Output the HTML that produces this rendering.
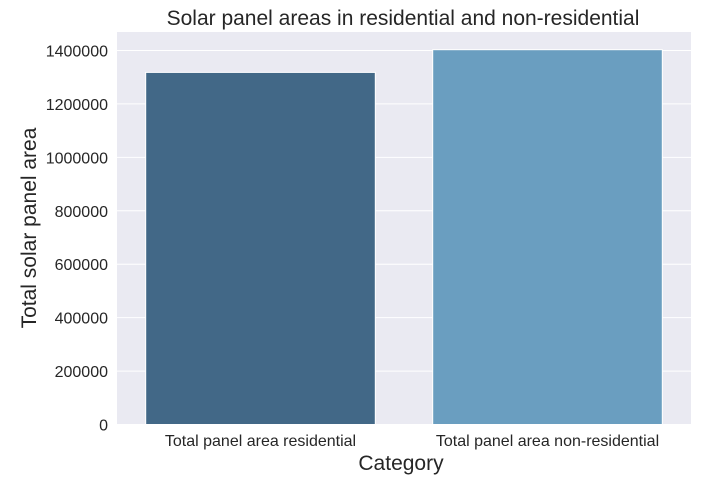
<!DOCTYPE html>
<html><head><meta charset="utf-8"><style>
body{margin:0;background:#fff;font-family:"Liberation Sans",Arial,sans-serif}
</style></head><body>
<svg width="720" height="485" id="chart">
<rect x="117" y="32" width="574" height="393" fill="#eaeaf2"/>
<g id="grid"></g><g id="bars"></g><g id="yt"></g><g id="xt"></g>
<text x="403" y="25" font-size="21" fill="#262626" text-anchor="middle">Solar panel areas in residential and non-residential</text>
<text x="401" y="470" font-size="21" fill="#262626" text-anchor="middle">Category</text>
<text transform="translate(36,228) rotate(-90)" font-size="21" fill="#262626" text-anchor="middle">Total solar panel area</text>
</svg>
<script>
const categories=["Total panel area residential","Total panel area non-residential"];
const values=[1318000,1403000];
const yTicks=[0,200000,400000,600000,800000,1000000,1200000,1400000];
const colors=["#426887","#6a9ec0"];
const ns="http://www.w3.org/2000/svg";
const L=117,R=691,y0=424.5,pxPer=(424.5-50.5)/1400000;
const y=v=>y0-v*pxPer;
const band=(R-L)/categories.length;
const x=i=>L+band*i;
function mk(t,a,p){const e=document.createElementNS(ns,t);for(const k in a)e.setAttribute(k,a[k]);document.getElementById(p).appendChild(e);return e;}
yTicks.forEach(t=>{
 const g=mk("line",{x1:L,x2:R,y1:y(t),y2:y(t),stroke:"#fff","stroke-width":1},"grid");
 
 
 const l=mk("text",{x:108,y:y(t)+6,"font-size":16,fill:"#262626","text-anchor":"end"},"yt");
 l.textContent=t;
 
 
});
categories.forEach((c,i)=>{
 const w=band*0.8;
 const b=mk("rect",{x:x(i)+band*0.1,y:y(values[i]),width:w,height:y0-y(values[i]),fill:colors[i],stroke:"#fff","stroke-width":1},"bars");
 
 
 const l=mk("text",{x:x(i)+band/2,y:446,"font-size":16,fill:"#262626","text-anchor":"middle"},"xt");
 l.textContent=c;
 
 
});
</script>
</body></html>
